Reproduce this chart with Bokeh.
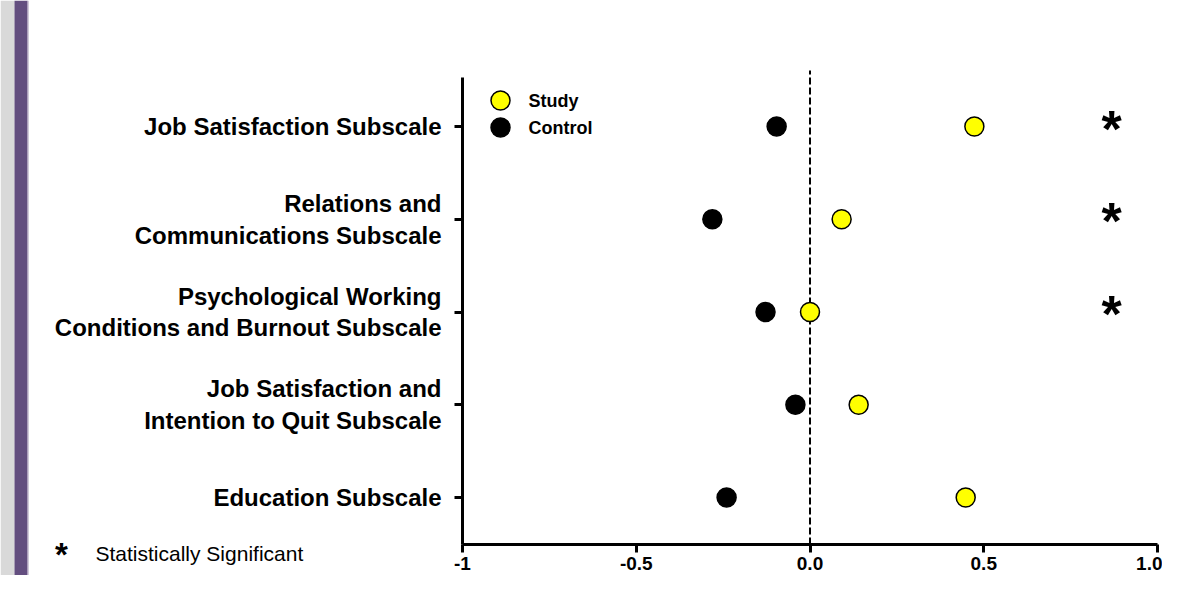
from bokeh.plotting import figure
from bokeh.models import Range1d, FixedTicker, BoxAnnotation
from bokeh.embed import file_html
from bokeh.resources import INLINE
from bokeh.core.properties import value

# ---------------- data ----------------
categories = [
    "Job Satisfaction Subscale",
    "Relations and\nCommunications Subscale",
    "Psychological Working\nConditions and Burnout Subscale",
    "Job Satisfaction and\nIntention to Quit Subscale",
    "Education Subscale",
]
positions = [5, 4, 3, 2, 1]
study = [0.473, 0.091, 0.0, 0.140, 0.448]
control = [-0.096, -0.281, -0.128, -0.042, -0.240]
significant = [True, True, True, False, False]
x_ticks = [-1, -0.5, 0, 0.5, 1]
x_tick_labels = ["-1", "-0.5", "0.0", "0.5", "1.0"]
legend_labels = ["Study", "Control"]
note_text = "Statistically Significant"

FONT = "Liberation Sans"
YELLOW = "#ffff00"

# ---------------- layout geometry (pixels -> data) ----------------
W, H = 1162, 575
X_M1_PX, PX_PER_X = 462.0, 347.5      # pixel of x=-1, pixels per unit x
Y_1_PX, PX_PER_Y = 497.0, 92.75       # pixel of y=1 (bottom row), pixels per row


def dx(px):
    return -1 + (px - X_M1_PX) / PX_PER_X


def dy(py):
    return 1 + (Y_1_PX - py) / PX_PER_Y


AXIS_BOTTOM = dy(544)
AXIS_TOP = dy(77)
ZERO_TOP = dy(70)

p = figure(width=W, height=H,
           x_range=Range1d(dx(0), dx(W)), y_range=Range1d(dy(H), dy(0)),
           output_backend="svg", toolbar_location=None, min_border=0)
p.title.visible = False
p.grid.visible = False
p.outline_line_color = None
p.background_fill_color = "white"
p.border_fill_color = "white"

# decorative strip on the left
p.add_layout(BoxAnnotation(left=0, right=14, left_units="screen", right_units="screen",
                           fill_color="#d9d9d9", fill_alpha=1, line_color=None,
                           level="underlay"))
p.add_layout(BoxAnnotation(left=14, right=27, left_units="screen", right_units="screen",
                           fill_color="#634e7f", fill_alpha=1, line_color=None,
                           level="underlay"))
p.add_layout(BoxAnnotation(left=27, right=28, left_units="screen", right_units="screen",
                           fill_color="#a596b8", fill_alpha=1, line_color=None,
                           level="underlay"))

# x axis
xa = p.xaxis[0]
xa.fixed_location = AXIS_BOTTOM
xa.bounds = (-1, 1)
xa.ticker = FixedTicker(ticks=x_ticks)
xa.major_label_overrides = {t: l for t, l in zip(x_ticks, x_tick_labels)}
xa.axis_line_width = 3
xa.major_tick_line_width = 3
xa.major_tick_out = 8
xa.major_tick_in = 0
xa.minor_tick_out = 0
xa.minor_tick_in = 0
xa.major_label_text_font = FONT
xa.major_label_text_font_style = "bold"
xa.major_label_text_font_size = "19px"
xa.major_label_text_color = "black"
xa.major_label_standoff = 4

# y axis
ya = p.yaxis[0]
ya.fixed_location = -1
ya.bounds = (AXIS_BOTTOM, AXIS_TOP)
ya.ticker = FixedTicker(ticks=positions)
ya.major_label_overrides = {t: l for t, l in zip(positions, categories)}
ya.axis_line_width = 3
ya.major_tick_line_width = 3
ya.major_tick_out = 8
ya.major_tick_in = 0
ya.minor_tick_out = 0
ya.minor_tick_in = 0
ya.major_label_text_font = FONT
ya.major_label_text_font_style = "bold"
ya.major_label_text_font_size = "24px"
ya.major_label_text_color = "black"
ya.major_label_text_line_height = 1.17
ya.major_label_standoff = 13

# zero reference line
p.segment(x0=[0], y0=[AXIS_BOTTOM], x1=[0], y1=[ZERO_TOP], line_color="black",
          line_width=2, line_dash="7 3")

# points
p.scatter(control, positions, size=19, fill_color="black", line_color="black",
          line_width=1.5)
p.scatter(study, positions, size=19, fill_color=YELLOW, line_color="black",
          line_width=1.5)

# significance stars
star_x = [dx(1111) for sg in significant if sg]
star_y = [pos for pos, sg in zip(positions, significant) if sg]
p.text(star_x, star_y, text=["*"] * len(star_x),
       text_font=value(FONT), text_font_style="bold", text_font_size="52px",
       text_align="center", text_baseline="middle", y_offset=2,
       text_color="black")

# legend
leg_x = dx(500)
leg_y = [dy(100), dy(127)]
p.scatter([leg_x], [leg_y[0]], size=19, fill_color=YELLOW, line_color="black",
          line_width=1.5)
p.scatter([leg_x], [leg_y[1]], size=19, fill_color="black", line_color="black",
          line_width=1.5)
p.text([dx(528)] * 2, leg_y, text=legend_labels,
       text_font=value(FONT), text_font_style="bold", text_font_size="18px",
       text_align="left", text_baseline="middle", text_color="black")

# footnote
p.text([dx(61)], [dy(550)], text=["*"], text_font=value(FONT),
       text_font_style="bold", text_font_size="33px", text_align="center",
       text_baseline="middle", y_offset=4, text_color="black")
p.text([dx(95)], [dy(553)], text=[note_text], text_font=value(FONT),
       text_font_size="21px", text_align="left", text_baseline="middle",
       text_color="black")

open("out.html", "w").write(file_html(p, INLINE))
